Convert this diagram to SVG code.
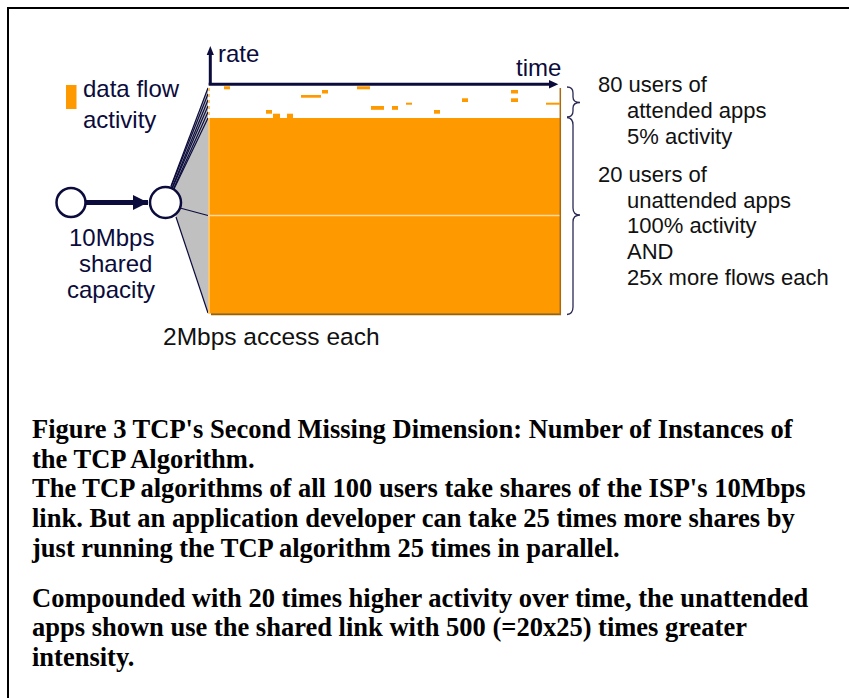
<svg xmlns="http://www.w3.org/2000/svg" width="849" height="698" viewBox="0 0 849 698">
  <style>
    .lbl { font-family: "Liberation Sans", Arial, sans-serif; font-size: 24px; fill: #0b0b3c; }
    .note { font-family: "Liberation Sans", Arial, sans-serif; font-size: 22px; fill: #111; }
    .cap { font-family: "Liberation Serif", "Times New Roman", serif; font-size: 26.5px; font-weight: bold; fill: #000; }
    .flow { fill: #ff9900; }
    .node { fill: #fff; stroke: #0b0b3c; stroke-width: 2.5; }
    .fan { stroke: #0b0b3c; stroke-width: 1.2; fill: none; }
    .brace { stroke: #2a2a55; stroke-width: 1.3; fill: none; }
    .axis { stroke: #0b0b3c; stroke-width: 3; fill: none; }
  </style>
  <defs>
    <marker id="ah" viewBox="0 0 10 10" refX="10" refY="5" markerWidth="3" markerHeight="3" orient="auto" markerUnits="strokeWidth">
      <path d="M0,0 L10,5 L0,10 z" fill="#0b0b3c"/>
    </marker>
  </defs>

  <rect width="849" height="698" fill="#fff"/>
  <!-- frame -->
  <path d="M8,698 V8 H849" fill="none" stroke="#000" stroke-width="2"/>

  <!-- fan of access links from the shared node -->
  <g id="connectors">
    <polygon points="171,186 208,87 208,313 176,218" fill="#c0c0c0"/>
    <line class="fan" x1="171" y1="186" x2="208" y2="88"/>
    <line class="fan" x1="171" y1="187" x2="208" y2="94"/>
    <line class="fan" x1="172" y1="188" x2="208" y2="100"/>
    <line class="fan" x1="172" y1="189" x2="208" y2="106"/>
    <line class="fan" x1="173" y1="190" x2="208" y2="112"/>
    <line class="fan" x1="173" y1="191" x2="208" y2="118"/>
    <line class="fan" x1="180" y1="208" x2="208" y2="215.5"/>
    <line class="fan" x1="176" y1="217" x2="208" y2="313"/>
    <!-- bottleneck arrow -->
    <line x1="86" y1="202.5" x2="148" y2="202.5" stroke="#0b0b3c" stroke-width="5" marker-end="url(#ah)"/>
  </g>

  <!-- activity chart -->
  <g id="chart">
    <rect x="208" y="118" width="352" height="195.5" class="flow"/>
    <line x1="209" y1="118" x2="209" y2="313" stroke="#ffc46e" stroke-width="2"/>
    <line x1="208" y1="215.5" x2="560" y2="215.5" stroke="#ffd89c" stroke-width="1.5"/>
    <line x1="211" y1="314.3" x2="561" y2="314.3" stroke="#9c6200" stroke-width="2"/>
    <line x1="560.3" y1="88" x2="560.3" y2="315" stroke="#a86a10" stroke-width="1.5"/>
    <!-- sparse flows of attended apps -->
    <rect class="flow" x="224" y="86.3" width="6" height="3"/>
    <rect class="flow" x="357" y="86.3" width="13" height="3"/>
    <rect class="flow" x="322" y="90" width="6" height="3.5"/>
    <rect class="flow" x="301" y="95" width="20" height="2.7"/>
    <rect class="flow" x="511" y="90" width="7" height="3.5"/>
    <rect class="flow" x="511" y="98.3" width="7" height="3.7"/>
    <rect class="flow" x="462" y="98.3" width="6" height="3.7"/>
    <rect class="flow" x="406" y="102.7" width="6" height="2"/>
    <rect class="flow" x="546" y="102.7" width="14" height="2"/>
    <rect class="flow" x="371" y="106" width="13" height="3.8"/>
    <rect class="flow" x="392" y="106" width="6" height="3.8"/>
    <rect class="flow" x="266" y="110" width="6" height="3.7"/>
    <rect class="flow" x="434" y="110" width="6" height="3.7"/>
    <rect class="flow" x="273" y="113.7" width="7" height="4.3"/>
    <rect class="flow" x="287" y="113.7" width="6" height="4.3"/>
    <rect x="208" y="88" width="2" height="3" fill="#ffc46e"/>
    <rect x="208" y="94" width="2" height="3" fill="#ffc46e"/>
    <rect x="208" y="100" width="2" height="3" fill="#ffc46e"/>
    <rect x="208" y="106" width="2" height="3" fill="#ffc46e"/>
    <rect x="208" y="112" width="2" height="3" fill="#ffc46e"/>
    <!-- axes -->
    <path class="axis" d="M210.3,85 V54"/>
    <polygon points="206.7,55 210.3,46 213.9,55" fill="#0b0b3c"/>
    <path class="axis" d="M208.7,84.3 H550"/>
    <polygon points="549,80 558.3,84.3 549,88.6" fill="#0b0b3c"/>
    <text class="lbl" x="218" y="62">rate</text>
    <text class="lbl" x="516" y="76">time</text>
  </g>

  <g id="legend">
    <rect x="66" y="85" width="10.5" height="24" class="flow"/>
    <text class="lbl" x="83" y="97">data flow</text>
    <text class="lbl" x="83" y="128">activity</text>
  </g>

  <g id="source-node">
    <circle class="node" cx="71" cy="202.5" r="14.5"/>
  </g>

  <g id="shared-node">
    <circle class="node" cx="165.5" cy="202.5" r="15.5"/>
    <text class="lbl" x="69" y="246">10Mbps</text>
    <text class="lbl" x="79" y="272">shared</text>
    <text class="lbl" x="67" y="298">capacity</text>
  </g>

  <g id="access-label">
    <text class="lbl" x="163" y="345" style="font-size:24.5px;fill:#111">2Mbps access each</text>
  </g>

  <g id="attended-group">
    <path class="brace" d="M567,87 Q573,87 573,93 V97 Q573,102.5 580,102.5 Q573,102.5 573,108 V111 Q573,117 567,117"/>
    <text class="note" x="598" y="92">80 users of</text>
    <text class="note" x="627" y="118">attended apps</text>
    <text class="note" x="627" y="144">5% activity</text>
  </g>

  <g id="unattended-group">
    <path class="brace" d="M567,117.5 Q573,118 573,125 V208 Q573,215 580,215 Q573,215 573,222 V307 Q573,314 567,314.5"/>
    <text class="note" x="598" y="182">20 users of</text>
    <text class="note" x="627" y="208">unattended apps</text>
    <text class="note" x="627" y="233">100% activity</text>
    <text class="note" x="627" y="259">AND</text>
    <text class="note" x="627" y="285">25x more flows each</text>
  </g>

  <g id="caption">
    <text class="cap" x="32" y="438">Figure 3 TCP's Second Missing Dimension: Number of Instances of</text>
    <text class="cap" x="32" y="467.7">the TCP Algorithm.</text>
    <text class="cap" x="32" y="497.4">The TCP algorithms of all 100 users take shares of the ISP's 10Mbps</text>
    <text class="cap" x="32" y="527.1">link. But an application developer can take 25 times more shares by</text>
    <text class="cap" x="32" y="556.8">just running the TCP algorithm 25 times in parallel.</text>
    <text class="cap" x="32" y="606.5">Compounded with 20 times higher activity over time, the unattended</text>
    <text class="cap" x="32" y="636.2">apps shown use the shared link with 500 (=20x25) times greater</text>
    <text class="cap" x="32" y="665.9">intensity.</text>
  </g>
</svg>
